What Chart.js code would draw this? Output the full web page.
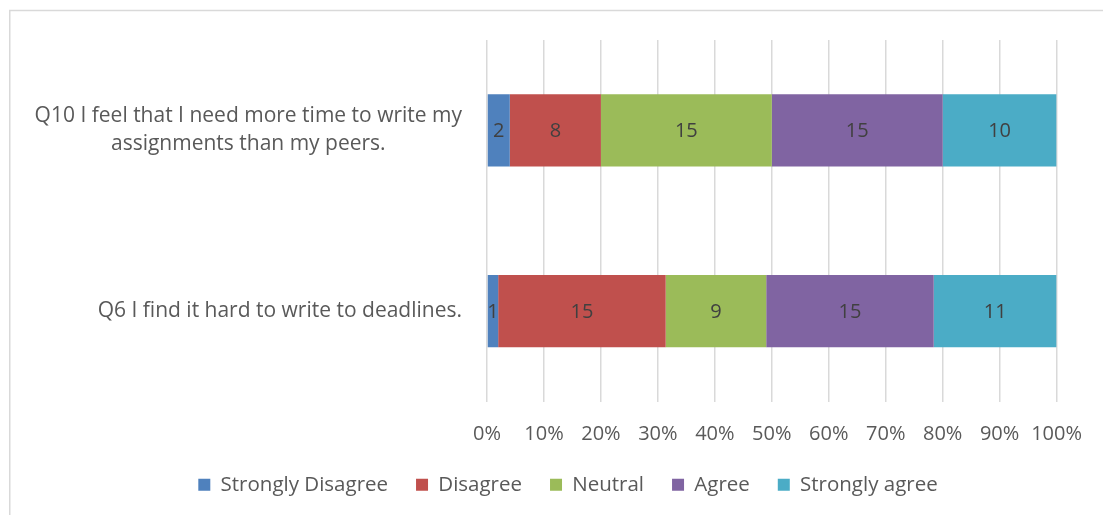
<!DOCTYPE html>
<html>
<head>
<meta charset="utf-8">
<script src="https://cdn.jsdelivr.net/npm/chart.js@4.4.1/dist/chart.umd.min.js"></script>
<style>
  html, body { margin: 0; padding: 0; background: #ffffff; }
  #wrap { position: relative; width: 1103px; height: 515px; }
  canvas { display: block; }
</style>
</head>
<body>
<div id="wrap"><canvas id="chart" width="1103" height="515"></canvas></div>
<script>
// Survey questions (top to bottom)
const questions = [
  ['Q10 I feel that I need more time to write my', 'assignments than my peers.'],
  'Q6 I find it hard to write to deadlines.'
];

// Response categories and their colours
const responses = ['Strongly Disagree', 'Disagree', 'Neutral', 'Agree', 'Strongly agree'];
const colors = ['#4f81bd', '#c0504d', '#9bbb59', '#8064a2', '#4bacc6'];

// Respondent counts per category, one entry per question
const stronglyDisagree = [2, 1];
const disagree = [8, 15];
const neutral = [15, 9];
const agree = [15, 15];
const stronglyAgree = [10, 11];

// Axis tick labels
const percentTicks = ['0%', '10%', '20%', '30%', '40%', '50%', '60%', '70%', '80%', '90%', '100%'];

const FONT = '"Open Sans", sans-serif';
const TEXT = '#595959';
const counts = [stronglyDisagree, disagree, neutral, agree, stronglyAgree];
const totals = questions.map((_, i) => counts.reduce((s, arr) => s + arr[i], 0));

const datasets = responses.map((name, k) => ({
  label: name,
  counts: counts[k],
  data: counts[k].map((v, i) => v / totals[i] * 100),
  backgroundColor: colors[k],
  borderWidth: 0,
  barPercentage: 0.4,
  categoryPercentage: 1.0
}));

// Outer frame of the chart area
const framePlugin = {
  id: 'frame',
  beforeDraw(chart) {
    const ctx = chart.ctx;
    ctx.save();
    ctx.strokeStyle = '#d9d9d9';
    ctx.lineWidth = 1.5;
    ctx.beginPath();
    ctx.moveTo(9.75, 515);
    ctx.lineTo(9.75, 10.5);
    ctx.lineTo(1103, 10.5);
    ctx.stroke();
    ctx.restore();
  }
};

// Centre the legend under the plot rather than the whole canvas
const legendShift = {
  id: 'legendShift',
  afterLayout(chart) {
    const lg = chart.legend;
    if (lg) { lg.left += 38; lg.right += 38; }
  }
};

// Category labels: right-aligned block, wrapped lines centred within it
const categoryLabels = {
  id: 'categoryLabels',
  afterDraw(chart) {
    const ctx = chart.ctx;
    const yScale = chart.scales.y;
    const right = chart.chartArea.left - 25;
    const lineH = 28;
    ctx.save();
    ctx.font = '21px ' + FONT;
    ctx.fillStyle = TEXT;
    ctx.textAlign = 'center';
    ctx.textBaseline = 'middle';
    chart.data.labels.forEach((lab, i) => {
      const lines = Array.isArray(lab) ? lab : [lab];
      const maxW = Math.max(...lines.map(l => ctx.measureText(l).width));
      const cx = right - maxW / 2;
      const cy = yScale.getPixelForValue(i);
      const y0 = cy - (lines.length - 1) * lineH / 2;
      lines.forEach((l, j) => ctx.fillText(l, cx, y0 + j * lineH));
    });
    ctx.restore();
  }
};

// Count labels centred in each segment
const countLabels = {
  id: 'countLabels',
  afterDatasetsDraw(chart) {
    const ctx = chart.ctx;
    ctx.save();
    ctx.font = '20px ' + FONT;
    ctx.fillStyle = '#404040';
    ctx.textAlign = 'center';
    ctx.textBaseline = 'middle';
    chart.data.datasets.forEach((ds, di) => {
      chart.getDatasetMeta(di).data.forEach((bar, i) => {
        const x = (bar.x + bar.base) / 2;
        ctx.fillText(String(ds.counts[i]), x, bar.y + 1);
      });
    });
    ctx.restore();
  }
};

new Chart(document.getElementById('chart'), {
  type: 'bar',
  data: { labels: questions, datasets },
  plugins: [framePlugin, legendShift, countLabels, categoryLabels],
  options: {
    indexAxis: 'y',
    responsive: false,
    animation: false,
    layout: { padding: { top: 40, right: 43, left: 0, bottom: 10 } },
    scales: {
      x: {
        stacked: true,
        min: 0,
        max: 100,
        border: { display: false },
        grid: { color: '#d9d9d9', lineWidth: 1.5, drawTicks: false },
        ticks: {
          stepSize: 10,
          padding: 21,
          color: TEXT,
          font: { family: FONT, size: 20 },
          callback: (v) => percentTicks[Math.round(v / 10)]
        },
        afterFit(scale) { scale.height = 45; }
      },
      y: {
        stacked: true,
        border: { display: false },
        grid: { display: false, drawTicks: false },
        ticks: { display: false },
        afterFit(scale) { scale.width = 487; }
      }
    },
    plugins: {
      legend: {
        position: 'bottom',
        labels: {
          boxWidth: 12,
          boxHeight: 12,
          padding: 28,
          color: TEXT,
          font: { family: FONT, size: 20.5 }
        }
      },
      tooltip: { enabled: false }
    }
  }
});
</script>
</body>
</html>
